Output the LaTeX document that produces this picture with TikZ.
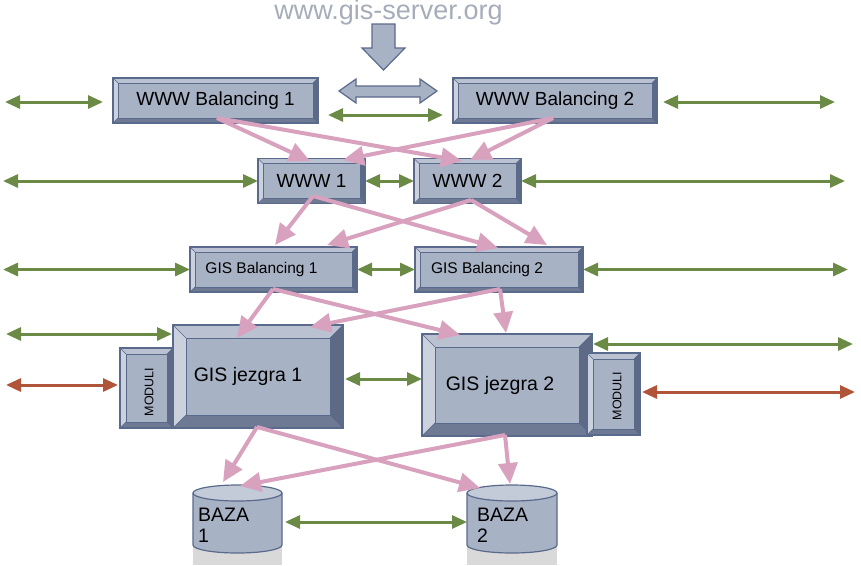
\documentclass[tikz,border=0pt]{standalone}
\usepackage{fontspec}
\setmainfont{Liberation Sans}
\usetikzlibrary{arrows.meta,calc}
\definecolor{face}{HTML}{A8B2C5}
\definecolor{bord}{HTML}{5A6A8C}
\definecolor{bevT}{HTML}{BAC2D1}
\definecolor{bevL}{HTML}{CBD1DD}
\definecolor{bevR}{HTML}{5E6985}
\definecolor{bevB}{HTML}{6E7994}
\definecolor{grn}{HTML}{6A8A46}
\definecolor{rdd}{HTML}{B0553A}
\definecolor{pnk}{HTML}{D8A2BF}
\definecolor{ttl}{HTML}{A6ACBA}
\definecolor{cyltop}{HTML}{C3CAD8}
\definecolor{shad}{HTML}{D9D9D9}
\newcommand{\myfbig}{\fontsize{19}{22}\selectfont}
\newcommand{\myfsmall}{\fontsize{15.5}{18}\selectfont}
\newcommand{\myfcore}{\fontsize{19.5}{22}\selectfont}
\newcommand{\myfmod}{\fontsize{12.5}{14}\selectfont}
\newcommand{\myfbaza}{\fontsize{19.5}{21}\selectfont}
\newcommand{\bevdraw}[1]{%
  \coordinate (bNW) at (path picture bounding box.north west);
  \coordinate (bNE) at (path picture bounding box.north east);
  \coordinate (bSW) at (path picture bounding box.south west);
  \coordinate (bSE) at (path picture bounding box.south east);
  \coordinate (iNW) at ($(bNW)+(#1pt,-#1pt)$);
  \coordinate (iNE) at ($(bNE)+(-#1pt,-#1pt)$);
  \coordinate (iSW) at ($(bSW)+(#1pt,#1pt)$);
  \coordinate (iSE) at ($(bSE)+(-#1pt,#1pt)$);
  \fill[bevT] (bNW)--(bNE)--(iNE)--(iNW)--cycle;
  \fill[bevL] (bNW)--(iNW)--(iSW)--(bSW)--cycle;
  \fill[bevR] (bNE)--(bSE)--(iSE)--(iNE)--cycle;
  \fill[bevB] (bSW)--(iSW)--(iSE)--(bSE)--cycle;
  \draw[bord, line width=0.9pt] (iNW) rectangle (iSE);
  \draw[bord, line width=0.6pt] (bNW)--(iNW) (bNE)--(iNE) (bSW)--(iSW) (bSE)--(iSE);
}
\tikzset{
  bevbox/.style={rectangle, draw=bord, fill=face, line width=1.2pt, inner sep=0pt, outer sep=0pt, path picture={\bevdraw{#1}}},
  garrow/.style={draw=grn, line width=3pt, {Triangle[length=15pt,width=13pt]}-{Triangle[length=15pt,width=13pt]}},
  rarrow/.style={garrow, draw=rdd},
  parrow/.style={draw=pnk, line width=4pt, -{Triangle[length=21pt,width=19pt]}},
  blockarrow/.style={draw=bord, fill=face, line width=1.2pt, line join=miter},
  cylbody/.style={draw=bord, fill=face, line width=1.2pt},
  cyltopst/.style={draw=bord, fill=cyltop, line width=1.2pt},
  anchorbox/.style={rectangle, inner sep=0pt, outer sep=0pt}
}
\begin{document}
\begin{tikzpicture}[x=1pt,y=-1pt]
\useasboundingbox (0,0) rectangle (861,565);

% title and block arrows
\node[font=\fontsize{27}{31}\selectfont, text=ttl, anchor=base, inner sep=0pt] (title) at (388.5,19.8) {www.gis-server.org};
\draw[blockarrow] (372,24) -- (395,24) -- (395,48) -- (405,48) -- (383.5,70) -- (362,48) -- (372,48) -- cycle;
\draw[blockarrow] (339,91) -- (356,79) -- (356,86) -- (420,86) -- (420,79) -- (437,91) -- (420,103) -- (420,97) -- (356,97) -- (356,103) -- cycle;

% boxes
\node[bevbox=5, minimum width=205pt, minimum height=45pt, font=\myfbig] (wb1) at (215.5,100.5) {WWW Balancing 1};
\node[bevbox=5, minimum width=204pt, minimum height=45pt, font=\myfbig] (wb2) at (555,100.5) {WWW Balancing 2};
\node[bevbox=5, minimum width=107pt, minimum height=45pt, font=\myfbig] (w1) at (311.5,181) {WWW 1};
\node[bevbox=5, minimum width=107pt, minimum height=45pt, font=\myfbig] (w2) at (467.5,181) {WWW 2};
\node[bevbox=5, minimum width=167pt, minimum height=45pt, font=\myfsmall] (gb1) at (273.5,269.5) {\hspace*{-24pt}GIS Balancing 1};
\node[bevbox=5, minimum width=168pt, minimum height=45pt, font=\myfsmall] (gb2) at (499,269.5) {\hspace*{-24pt}GIS Balancing 2};
\node[bevbox=13, minimum width=170pt, minimum height=103pt, font=\myfcore] (gj1) at (258,376.5) {\hspace*{-20pt}GIS jezgra 1};
\node[bevbox=6, minimum width=53pt, minimum height=80pt] (m1) at (146.5,388) {};
\node[rotate=90, font=\myfmod, inner sep=0pt] (m1t) at (149,392) {MODULI};
\node[bevbox=13, minimum width=170pt, minimum height=102pt, font=\myfcore] (gj2) at (507,385) {\hspace*{-14pt}GIS jezgra 2};
\node[bevbox=6, minimum width=53pt, minimum height=82pt] (m2) at (613.5,394) {};
\node[rotate=90, font=\myfmod, inner sep=0pt] (m2t) at (617,396) {MODULI};

% databases
\fill[shad] (193,545) rectangle (282,565);
\draw[cylbody] (193,493) -- (193,545) arc[start angle=180,end angle=360,x radius=44.5pt,y radius=8pt] -- (282,493);
\draw[cyltopst] (237.5,493) ellipse [x radius=44.5pt, y radius=8pt];
\node[anchorbox, minimum width=89pt, minimum height=68pt] (b1) at (237.5,519) {};
\node[font=\myfbaza, align=left, anchor=north west, inner sep=0pt] (b1t) at (198,508) {BAZA\\1};
\fill[shad] (467,545) rectangle (557,565);
\draw[cylbody] (467,493) -- (467,545) arc[start angle=180,end angle=360,x radius=45pt,y radius=8pt] -- (557,493);
\draw[cyltopst] (512,493) ellipse [x radius=45pt, y radius=8pt];
\node[anchorbox, minimum width=90pt, minimum height=68pt] (b2) at (512,519) {};
\node[font=\myfbaza, align=left, anchor=north west, inner sep=0pt] (b2t) at (477,508) {BAZA\\2};

% free ends
\coordinate (L1) at (5,102);
\coordinate (R1) at (835,102);
\coordinate (L2) at (3,181);
\coordinate (R2) at (845,181);
\coordinate (L3) at (3,269.5);
\coordinate (R3) at (848,269.5);
\coordinate (L4) at (6,334);
\coordinate (L5) at (6,385);
\coordinate (R4) at (853,344);
\coordinate (R5) at (855,392);

% green / red links
\draw[garrow] (L1) -- ([xshift=-10pt,yshift=-1.5pt]wb1.west);
\draw[garrow] ([xshift=6pt,yshift=-1.5pt]wb2.east) -- (R1);
\draw[garrow] ([xshift=10pt,yshift=-14.5pt]wb1.east) -- ([xshift=-10pt,yshift=-14.5pt]wb2.west);
\draw[garrow] (L2) -- (w1.west);
\draw[garrow] (w1.east) -- (w2.west);
\draw[garrow] (w2.east) -- (R2);
\draw[garrow] (L3) -- (gb1.west);
\draw[garrow] (gb1.east) -- (gb2.west);
\draw[garrow] (gb2.east) -- (R3);
\draw[garrow] (L4) -- ([xshift=-1pt,yshift=42.5pt]gj1.west);
\draw[rarrow] (L5) -- ([xshift=-2pt,yshift=3pt]m1.west);
\draw[garrow] ([xshift=2pt,yshift=-2.5pt]gj1.east) -- ([yshift=6pt]gj2.west);
\draw[garrow] ([xshift=1pt,yshift=41pt]gj2.east) -- (R4);
\draw[rarrow] ([xshift=2pt,yshift=2pt]m2.east) -- (R5);
\draw[garrow] ([xshift=3pt,yshift=-3pt]b1.east) -- ([yshift=-3pt]b2.west);

% pink flows
\draw[parrow] ([xshift=1.5pt,yshift=5pt]wb1.south) -- ([xshift=-1.5pt,yshift=-2.5pt]w1.north);
\draw[parrow] ([xshift=1.5pt,yshift=5pt]wb1.south) -- ([xshift=-5.5pt,yshift=-2.5pt]w2.north);
\draw[parrow] ([xshift=-2pt,yshift=5pt]wb2.south) -- ([xshift=31.5pt,yshift=-1.5pt]w1.north);
\draw[parrow] ([xshift=-2pt,yshift=5pt]wb2.south) -- ([xshift=2.5pt,yshift=-1.5pt]w2.north);

\draw[parrow] ([xshift=1.5pt,yshift=7.5pt]w1.south) -- ([xshift=1.5pt,yshift=2pt]gb1.north);
\draw[parrow] ([xshift=1.5pt,yshift=7.5pt]w1.south) -- ([xshift=-1pt,yshift=-1pt]gb2.north);
\draw[parrow] ([xshift=3.5pt,yshift=3.5pt]w2.south) -- ([xshift=53.5pt,yshift=2pt]gb1.north);
\draw[parrow] ([xshift=3.5pt,yshift=3.5pt]w2.south) -- ([xshift=48pt,yshift=2pt]gb2.north);

\draw[parrow] ([xshift=-0.5pt,yshift=3pt]gb1.south) -- ([xshift=-21pt,yshift=-13pt]gj1.north);
\draw[parrow] ([xshift=-0.5pt,yshift=3pt]gb1.south) -- ([xshift=-47pt,yshift=-1pt]gj2.north);
\draw[parrow] ([xshift=1pt,yshift=3pt]gb2.south) -- ([xshift=52pt,yshift=-2pt]gj1.north);
\draw[parrow] ([xshift=1pt,yshift=3pt]gb2.south) -- ([xshift=-1pt,yshift=1pt]gj2.north);

\draw[parrow] ([xshift=-1pt,yshift=1pt]gj1.south) -- ([xshift=-14.5pt,yshift=3pt]b1.north);
\draw[parrow] ([xshift=-1pt,yshift=1pt]gj1.south) -- ([xshift=-32pt,yshift=-3pt]b2.north);
\draw[parrow] ([xshift=-2pt,yshift=1pt]gj2.south) -- ([xshift=2.5pt,yshift=-1pt]b1.north);
\draw[parrow] ([xshift=-2pt,yshift=1pt]gj2.south) -- ([xshift=-2pt,yshift=1pt]b2.north);
\end{tikzpicture}
\end{document}
